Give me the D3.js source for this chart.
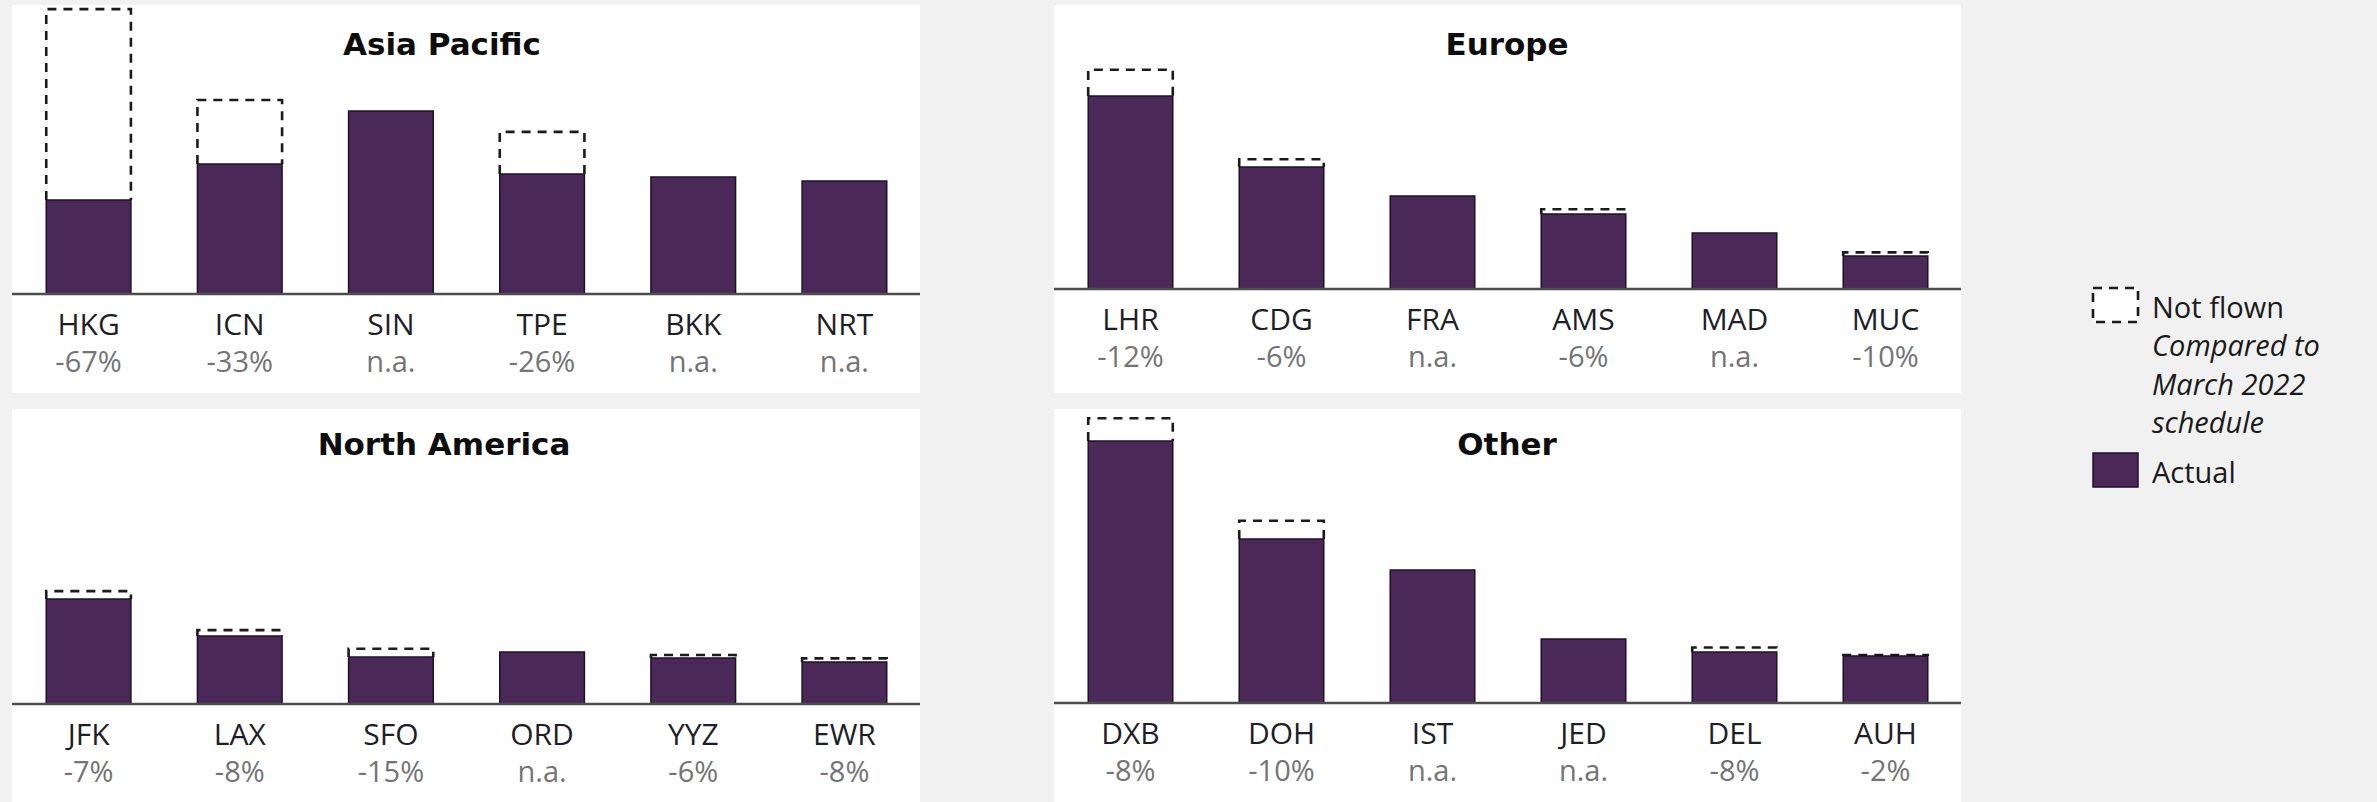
<!DOCTYPE html>
<html>
<head>
<meta charset="utf-8">
<script src="https://cdn.jsdelivr.net/npm/d3@7"></script>
<style>
  html, body { margin: 0; padding: 0; background: #f1f1f1; }
  svg { display: block; }
  text { font-family: "Open Sans", "Liberation Sans", Arial, sans-serif; }
  text.panel-title { font-family: "DejaVu Sans", "Open Sans", sans-serif; }
</style>
</head>
<body>
<svg id="chart" width="2377" height="802"></svg>
<script>
// Airport capacity by region: actual vs. March 2022 schedule
const regions = ["Asia Pacific", "Europe", "North America", "Other"];

const airports = [
  ["HKG", "ICN", "SIN", "TPE", "BKK", "NRT"],
  ["LHR", "CDG", "FRA", "AMS", "MAD", "MUC"],
  ["JFK", "LAX", "SFO", "ORD", "YYZ", "EWR"],
  ["DXB", "DOH", "IST", "JED", "DEL", "AUH"]
];

// Actual capacity flown (index units)
const actual = [
  [94, 130, 183, 120, 117, 113],
  [193, 122, 93, 75, 56, 33],
  [105, 68, 47, 52, 46, 42],
  [262, 164, 133, 64, 51, 47]
];

// Change vs. March 2022 schedule, in percent (null = n.a.)
const changePct = [
  [-67, -33, null, -26, null, null],
  [-12, -6, null, -6, null, -10],
  [-7, -8, -15, null, -6, -8],
  [-8, -10, null, null, -8, -2]
];

const legendItems = ["Not flown", "Actual"];
const legendNote = ["Compared to", "March 2022", "schedule"];

// Panel frames: edges, baseline and title anchor
const frames = [
  { x0: 12, x1: 920, y0: 5, y1: 393, base: 294, tx: 442, ty: 55 },
  { x0: 1054, x1: 1961, y0: 5, y1: 393, base: 289, tx: 1507, ty: 55 },
  { x0: 12, x1: 920, y0: 409, y1: 802, base: 704, tx: 444, ty: 455 },
  { x0: 1054, x1: 1961, y0: 409, y1: 802, base: 703, tx: 1507, ty: 455 }
];

const BAR = "#4a2959";
const BAR_EDGE = "#1f1127";
const DASH = "#1b1b1b";
const yMax = 300;

const svg = d3.select("#chart");

regions.forEach((region, i) => {
  const f = frames[i];
  const g = svg.append("g");

  g.append("rect")
    .attr("x", f.x0).attr("y", f.y0)
    .attr("width", f.x1 - f.x0).attr("height", f.y1 - f.y0)
    .attr("fill", "#ffffff");

  const x = d3.scaleBand()
    .domain(airports[i])
    .range([f.x0 + 1, f.x1])
    .paddingInner(0.44)
    .paddingOuter(0.22);

  const y = d3.scaleLinear()
    .domain([0, yMax])
    .range([f.base, f.base - yMax]);

  const rows = airports[i].map((code, j) => {
    const a = actual[i][j];
    const c = changePct[i][j];
    return {
      code,
      actual: a,
      change: c,
      scheduled: c === null ? null : a / (1 + c / 100)
    };
  });

  // Not-flown outline above each bar
  g.selectAll("path.notflown")
    .data(rows.filter(d => d.scheduled !== null))
    .join("path")
    .attr("class", "notflown")
    .attr("d", d => {
      const l = x(d.code), r = x(d.code) + x.bandwidth();
      const yt = y(d.scheduled), yb = y(d.actual);
      return `M${l},${yb}V${yt}H${r}V${yb}`;
    })
    .attr("fill", "#ffffff")
    .attr("stroke", DASH)
    .attr("stroke-width", 2.6)
    .attr("stroke-dasharray", "9,7");

  // Actual bars
  g.selectAll("rect.bar")
    .data(rows)
    .join("rect")
    .attr("class", "bar")
    .attr("x", d => x(d.code))
    .attr("y", d => y(d.actual))
    .attr("width", x.bandwidth())
    .attr("height", d => y(0) - y(d.actual))
    .attr("fill", BAR)
    .attr("stroke", BAR_EDGE)
    .attr("stroke-width", 1.5);

  // Baseline axis with airport and change labels
  const axis = d3.axisBottom(x).tickSize(0).tickPadding(0);
  const ax = g.append("g")
    .attr("transform", `translate(0,${f.base})`)
    .call(axis);
  ax.select(".domain")
    .attr("d", `M${f.x0},0H${f.x1}`)
    .attr("stroke", "#4d4d4d")
    .attr("stroke-width", 2.5);
  ax.selectAll(".tick text").remove();

  const ticks = ax.selectAll(".tick");
  ticks.append("text")
    .attr("y", 41)
    .attr("text-anchor", "middle")
    .attr("fill", "#1e1e28")
    .style("font-size", "30px")
    .text(d => d);
  ticks.append("text")
    .attr("y", 78)
    .attr("text-anchor", "middle")
    .attr("fill", "#747474")
    .style("font-size", "29px")
    .text((d, j) => {
      const c = changePct[i][j];
      return c === null ? "n.a." : `${c}%`;
    });

  g.append("text")
    .attr("class", "panel-title")
    .attr("x", f.tx)
    .attr("y", f.ty)
    .attr("text-anchor", "middle")
    .attr("fill", "#0d0d0d")
    .style("font-size", "31px")
    .style("font-weight", "700")
    .text(region);
});

// Legend
const lg = svg.append("g");
lg.append("rect")
  .attr("x", 2093).attr("y", 288)
  .attr("width", 45).attr("height", 34)
  .attr("fill", "#ffffff")
  .attr("stroke", DASH)
  .attr("stroke-width", 2.6)
  .attr("stroke-dasharray", "9,7");
lg.append("text")
  .attr("x", 2152).attr("y", 318)
  .attr("fill", "#1a1a1a")
  .style("font-size", "29px")
  .text(legendItems[0]);
legendNote.forEach((line, k) => {
  lg.append("text")
    .attr("x", 2152).attr("y", 356 + k * 38.5)
    .attr("fill", "#1a1a1a")
    .style("font-size", "29px")
    .style("font-style", "italic")
    .text(line);
});
lg.append("rect")
  .attr("x", 2093).attr("y", 453)
  .attr("width", 45).attr("height", 34)
  .attr("fill", BAR)
  .attr("stroke", BAR_EDGE)
  .attr("stroke-width", 1.5);
lg.append("text")
  .attr("x", 2152).attr("y", 483)
  .attr("fill", "#1a1a1a")
  .style("font-size", "29px")
  .text(legendItems[1]);
</script>
</body>
</html>
